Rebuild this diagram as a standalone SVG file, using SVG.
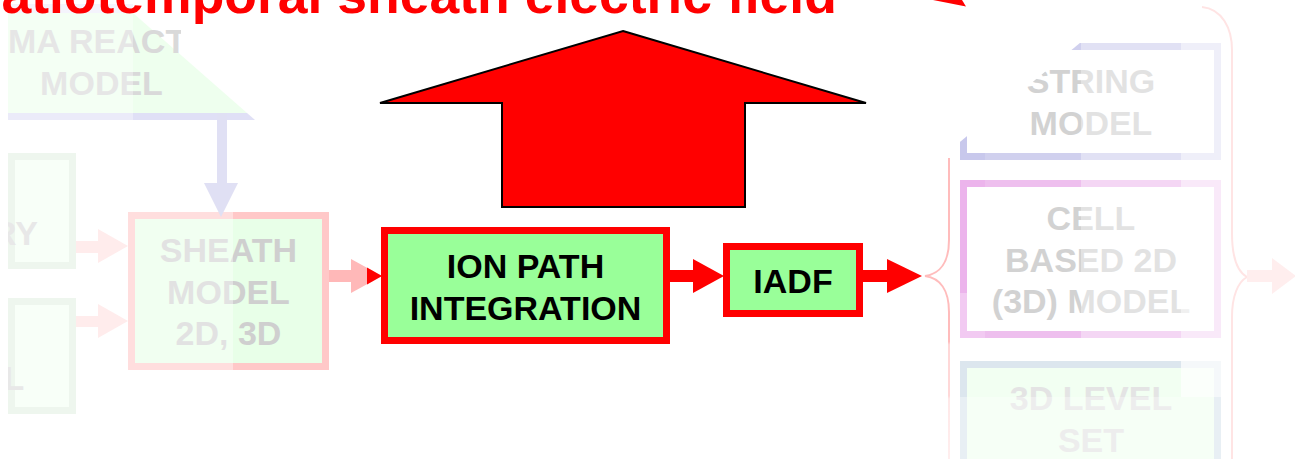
<svg xmlns="http://www.w3.org/2000/svg" width="1295" height="459" viewBox="0 0 1295 459">
<style>
.t{font-family:"Liberation Sans",Arial,sans-serif;font-weight:bold;font-size:34px;text-anchor:middle}
.fade{fill:#D0D0D0}
.red{fill:#FF0000}
.hot{fill:#99FF99;stroke:#FF0000;stroke-width:7}
.wash{fill:#FFFFFF}
</style>
<defs>
<clipPath id="leftclip"><rect x="8" y="0" width="1287" height="459"/></clipPath>
<clipPath id="reacclip"><rect x="8" y="0" width="173" height="459"/></clipPath>
<linearGradient id="braceL" gradientUnits="userSpaceOnUse" x1="0" y1="158" x2="0" y2="459">
<stop offset="0" stop-color="#FFBCBC"/>
<stop offset="0.61" stop-color="#FFBCBC"/>
<stop offset="0.62" stop-color="#FFD8D8"/>
<stop offset="0.79" stop-color="#FFD8D8"/>
<stop offset="0.8" stop-color="#FFE8E8"/>
<stop offset="1" stop-color="#FFEEEE"/>
</linearGradient>
</defs>
<rect width="1295" height="459" fill="#FFFFFF"/>

<g clip-path="url(#leftclip)">
<g id="plasma-reactor">
<rect x="8" y="4" width="125" height="9" fill="#EEEEFA"/>
<polygon points="8,13 133,13 247,113 8,113" fill="#EEFFEE"/>
<polygon points="8,113 247,113 255,120 8,120" fill="#E0E0F6"/>
<text class="t" x="8" y="53" style="text-anchor:start" fill="#D9D9D9" clip-path="url(#reacclip)">MA REACT</text>
<text class="t" x="101.5" y="95" fill="#D9D9D9">MODEL</text>
</g>
<g id="box-ry">
<rect x="11.5" y="156.5" width="61" height="109" fill="#F8FFF8" stroke="#EEF6EE" stroke-width="7"/>
<text class="t" x="38" y="245" style="text-anchor:end" fill="#E8E8E8">RY</text>
</g>
<g id="box-l">
<rect x="11.5" y="301.5" width="61" height="109" fill="#F8FFF8" stroke="#EEF6EE" stroke-width="7"/>
<text class="t" x="3.5" y="390" style="text-anchor:start" fill="#E8E8E8">L</text>
</g>
</g>

<g id="sheath">
<rect x="131.5" y="215.5" width="194" height="151" fill="#E8FFE8" stroke="#FFC8C8" stroke-width="7"/>
<text class="t" x="228.5" y="262" fill="#CFCFCF">SHEATH</text>
<text class="t" x="228.5" y="304" fill="#CFCFCF">MODEL</text>
<text class="t" x="228.5" y="345" fill="#CFCFCF">2D, 3D</text>
</g>

<g id="string-model">
<rect x="963.5" y="46.5" width="254" height="110" fill="#FFFFFF" stroke="#C8C8EC" stroke-width="7"/>
<text class="t" x="1091" y="93" fill="#CBCBCB">STRING</text>
<text class="t" x="1091" y="135" fill="#CBCBCB">MODEL</text>
</g>
<g id="cell-model">
<rect x="963.5" y="183.5" width="254" height="151" fill="#FFFFFF" stroke="#ECB4EC" stroke-width="7"/>
<text class="t" x="1091" y="230" fill="#CBCBCB">CELL</text>
<text class="t" x="1091" y="272" fill="#CBCBCB">BASED 2D</text>
<text class="t" x="1091" y="313" fill="#CBCBCB">(3D) MODEL</text>
</g>
<g id="level-set">
<rect x="963.5" y="364.5" width="254" height="110" fill="#F2FFF2" stroke="#DCE6EE" stroke-width="7"/>
<text class="t" x="1091" y="410" fill="#E4E4E4">3D LEVEL</text>
<text class="t" x="1091" y="452" fill="#E4E4E4">SET</text>
</g>

<g id="fade-overlays" class="wash">
<rect x="0" y="0" width="133" height="125" opacity="0.35"/>
<rect x="128" y="205" width="105" height="170" opacity="0.4"/>
<rect x="985" y="40" width="96" height="305" opacity="0.15"/>
<rect x="1081" y="40" width="100" height="305" opacity="0.45"/>
<rect x="1181" y="40" width="50" height="357" opacity="0.7"/>
<rect x="955" y="293" width="30" height="50" opacity="0.3"/>
<rect x="955" y="397" width="276" height="62" opacity="0.35"/>
<polygon points="1132,0 880,0 880,208" opacity="1"/>
</g>

<g id="brace-left">
<path d="M949,158 V240 C949,262 940,274 925,276 C940,278 949,290 949,312 V459" fill="none" stroke="url(#braceL)" stroke-width="2"/>
</g>
<g id="brace-right">
<path d="M1202,7 C1222,9 1232,28 1232,50 V233 C1232,258 1238,272 1247,277 C1238,282 1232,296 1232,317 V459" fill="none" stroke="#FFE4E4" stroke-width="2"/>
</g>

<g id="connectors">
<g fill="#E0E0F4">
<rect x="217" y="113" width="10" height="70"/>
<polygon points="204,183 238,183 221,217"/>
</g>
<g fill="#FFECEC">
<rect x="76" y="241" width="22" height="12"/>
<polygon points="98,229 98,263 128,246"/>
<rect x="76" y="316" width="22" height="11"/>
<polygon points="98,304 98,338 128,321"/>
</g>
<g fill="#FFB8B8">
<rect x="329" y="270" width="23" height="12"/>
<polygon points="351,259 351,293 382,276"/>
</g>
<polygon class="red" points="367,267.5 367,284.5 382,276"/>
<rect class="red" x="669" y="270" width="25" height="12"/>
<polygon class="red" points="693,259 693,293 724,276"/>
<rect class="red" x="862" y="270" width="26" height="12"/>
<polygon class="red" points="887,259 887,293 922,276"/>
<g fill="#FFEEEE">
<rect x="1247" y="270" width="26" height="12"/>
<polygon points="1272,258 1272,294 1296,276"/>
</g>
<polygon class="red" points="933,0 962,0 966,6.5"/>
</g>

<g id="big-arrow">
<polygon points="623,31 866,103 745,103 745,207 502,207 502,103 380,103" fill="#FF0000" stroke="#000000" stroke-width="2" stroke-linejoin="miter"/>
</g>

<g id="ion-path">
<rect class="hot" x="384.5" y="230.5" width="282" height="110"/>
<text class="t" x="525.5" y="278" fill="#000000">ION PATH</text>
<text class="t" x="525.5" y="320" fill="#000000">INTEGRATION</text>
</g>
<g id="iadf">
<rect class="hot" x="726.5" y="246.5" width="133" height="67"/>
<text class="t" x="793" y="293" fill="#000000">IADF</text>
</g>

<g id="title">
<text x="-61" y="13" font-family="Liberation Sans, Arial, sans-serif" font-weight="bold" font-size="53.5" fill="#FF0000">spatiotemporal sheath electric field</text>
</g>
</svg>
